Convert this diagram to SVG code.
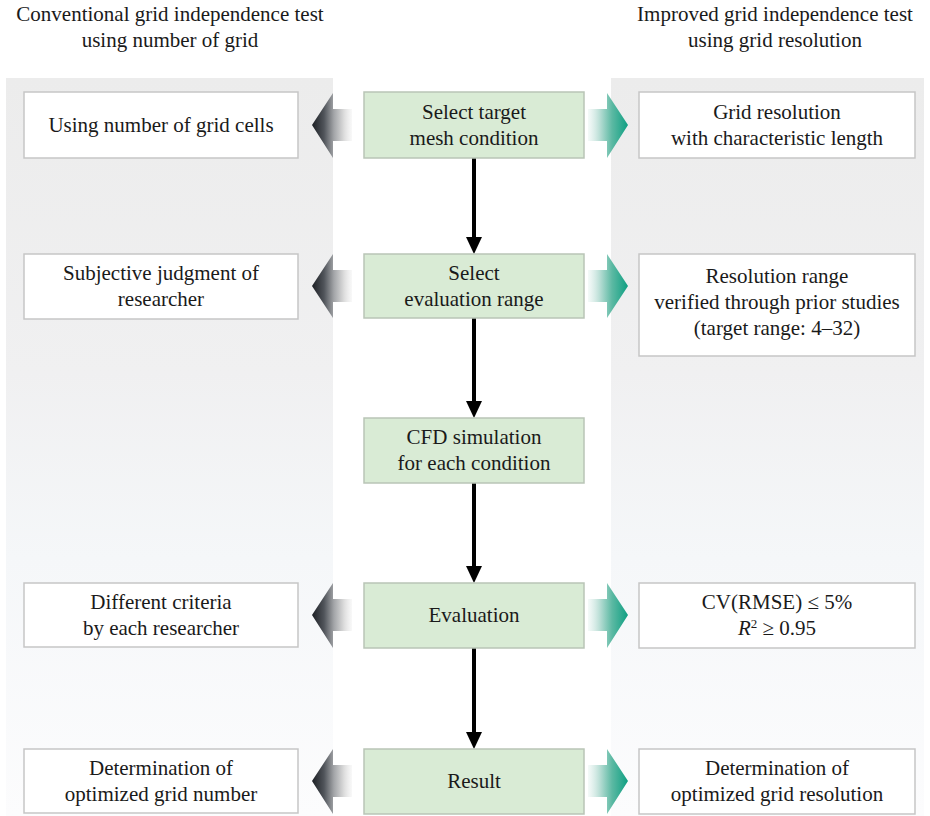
<svg xmlns="http://www.w3.org/2000/svg" width="930" height="816" viewBox="0 0 930 816" font-family="'Liberation Serif', 'Times New Roman', serif">
<style>
text{font-family:"Liberation Serif","Times New Roman",serif;font-size:21px;fill:#1a1a1a;text-anchor:middle}
.wb{fill:#fff;stroke:#c6c6c6;stroke-width:1.5}
.gb{fill:#d9ebd5;stroke:#b9c5b6;stroke-width:1.5}
.la{fill:url(#gl)}
.ra{fill:url(#gr)}
.vl{stroke:#000;stroke-width:4;fill:none}
</style>
<defs>
<linearGradient id="bg" x1="0" y1="0" x2="0" y2="1">
<stop offset="0" stop-color="#ececec"/>
<stop offset="0.4" stop-color="#f0f0f1"/>
<stop offset="0.65" stop-color="#f5f7f9"/>
<stop offset="1" stop-color="#fcfcfd"/>
</linearGradient>
<linearGradient id="gl" x1="0" y1="0" x2="1" y2="0">
<stop offset="0" stop-color="#1c1f24"/>
<stop offset="0.3" stop-color="#50545a"/>
<stop offset="0.55" stop-color="#a3a5a8"/>
<stop offset="0.8" stop-color="#dcdcdc"/>
<stop offset="1" stop-color="#f4f4f4" stop-opacity="0.6"/>
</linearGradient>
<linearGradient id="gr" x1="0" y1="0" x2="1" y2="0">
<stop offset="0" stop-color="#eef6f4" stop-opacity="0.6"/>
<stop offset="0.3" stop-color="#b7ddd4"/>
<stop offset="0.6" stop-color="#5cb9a3"/>
<stop offset="1" stop-color="#0e9f82"/>
</linearGradient>
</defs>

<!-- background panels -->
<rect x="6" y="78" width="327" height="738" fill="url(#bg)"/>
<rect x="611" y="78" width="313" height="738" fill="url(#bg)"/>

<!-- headers -->
<g id="header-left">
<text x="170" y="21">Conventional grid independence test</text>
<text x="170" y="47">using number of grid</text>
</g>
<g id="header-right">
<text x="775" y="21">Improved grid independence test</text>
<text x="775" y="47">using grid resolution</text>
</g>

<!-- connectors -->
<g id="connectors">
<line class="vl" x1="474" y1="158" x2="474" y2="238"/>
<path d="M466,237 L482,237 L474,254 Z" fill="#000"/>
<line class="vl" x1="474" y1="318" x2="474" y2="402"/>
<path d="M466,401 L482,401 L474,418 Z" fill="#000"/>
<line class="vl" x1="474" y1="483" x2="474" y2="567"/>
<path d="M466,566 L482,566 L474,583 Z" fill="#000"/>
<line class="vl" x1="474" y1="648" x2="474" y2="733"/>
<path d="M466,732 L482,732 L474,749 Z" fill="#000"/>

<!-- side arrows row 1 -->
<path class="la" d="M312,125 L333,93 L333,109 L352,109 L352,141 L333,141 L333,158 Z"/>
<path class="ra" d="M588,109 L607,109 L607,93 L628,125 L607,158 L607,141 L588,141 Z"/>
<!-- row 2 -->
<path class="la" d="M312,286 L333,254 L333,270 L352,270 L352,302 L333,302 L333,318 Z"/>
<path class="ra" d="M588,270 L607,270 L607,254 L628,286 L607,318 L607,302 L588,302 Z"/>
<!-- row 4 -->
<path class="la" d="M312,615 L333,583 L333,599 L352,599 L352,631 L333,631 L333,648 Z"/>
<path class="ra" d="M588,599 L607,599 L607,583 L628,615 L607,648 L607,631 L588,631 Z"/>
<!-- row 5 -->
<path class="la" d="M312,781 L333,749 L333,765 L352,765 L352,797 L333,797 L333,814 Z"/>
<path class="ra" d="M588,765 L607,765 L607,749 L628,781 L607,814 L607,797 L588,797 Z"/>
</g>

<!-- row 1 -->
<g id="left1">
<rect class="wb" x="24" y="92" width="274" height="66"/>
<text x="161" y="132">Using number of grid cells</text>
</g>
<g id="step1">
<rect class="gb" x="364" y="92" width="220" height="66"/>
<text x="474" y="119">Select target</text>
<text x="474" y="145">mesh condition</text>
</g>
<g id="right1">
<rect class="wb" x="639" y="92" width="276" height="66"/>
<text x="777" y="119">Grid resolution</text>
<text x="777" y="145">with characteristic length</text>
</g>

<!-- row 2 -->
<g id="left2">
<rect class="wb" x="24" y="254" width="274" height="65"/>
<text x="161" y="280">Subjective judgment of</text>
<text x="161" y="306">researcher</text>
</g>
<g id="step2">
<rect class="gb" x="364" y="254" width="220" height="64"/>
<text x="474" y="280">Select</text>
<text x="474" y="306">evaluation range</text>
</g>
<g id="right2">
<rect class="wb" x="639" y="254" width="276" height="102"/>
<text x="777" y="283">Resolution range</text>
<text x="777" y="309">verified through prior studies</text>
<text x="777" y="335">(target range: 4–32)</text>
</g>

<!-- row 3 -->
<g id="step3">
<rect class="gb" x="364" y="418" width="220" height="65"/>
<text x="474" y="444">CFD simulation</text>
<text x="474" y="470">for each condition</text>
</g>

<!-- row 4 -->
<g id="left4">
<rect class="wb" x="24" y="583" width="274" height="64"/>
<text x="161" y="609">Different criteria</text>
<text x="161" y="635">by each researcher</text>
</g>
<g id="step4">
<rect class="gb" x="364" y="583" width="220" height="65"/>
<text x="474" y="622">Evaluation</text>
</g>
<g id="right4">
<rect class="wb" x="639" y="583" width="276" height="65"/>
<text x="777" y="609">CV(RMSE) ≤ 5%</text>
<text x="777" y="635"><tspan font-style="italic">R</tspan><tspan font-size="13" dy="-7">2</tspan><tspan dy="7"> ≥ 0.95</tspan></text>
</g>

<!-- row 5 -->
<g id="left5">
<rect class="wb" x="24" y="749" width="274" height="64"/>
<text x="161" y="775">Determination of</text>
<text x="161" y="801">optimized grid number</text>
</g>
<g id="step5">
<rect class="gb" x="364" y="749" width="220" height="65"/>
<text x="474" y="788">Result</text>
</g>
<g id="right5">
<rect class="wb" x="639" y="749" width="276" height="65"/>
<text x="777" y="775">Determination of</text>
<text x="777" y="801">optimized grid resolution</text>
</g>
</svg>
